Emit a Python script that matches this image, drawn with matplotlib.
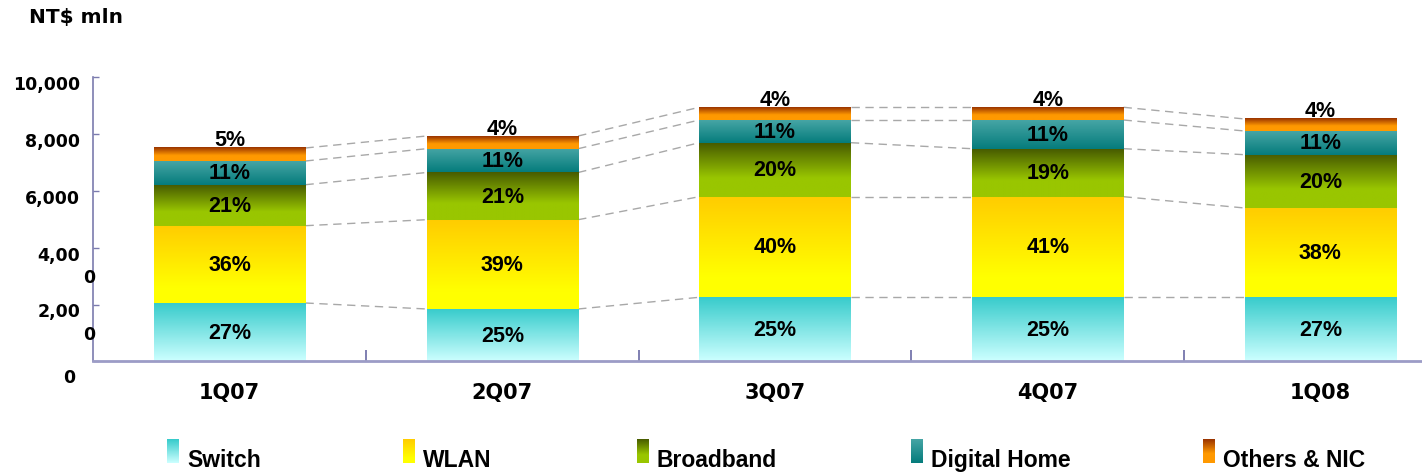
# Revenue breakdown by product line, NT$ mln

import numpy as np
import matplotlib.pyplot as plt
from matplotlib.colors import to_rgb
from matplotlib.transforms import offset_copy

# Data
quarters = ['1Q07', '2Q07', '3Q07', '4Q07', '1Q08']
segments = ['Switch', 'WLAN', 'Broadband', 'Digital Home', 'Others & NIC']

switch = [2053, 1842, 2254, 2254, 2254]
wlan = [2722, 3144, 3542, 3542, 3144]
broadband = [1443, 1662, 1901, 1690, 1877]
digital_home = [835, 838, 799, 1010, 834]
others = [458, 447, 448, 448, 423]

switch_pct = ['27%', '25%', '25%', '25%', '27%']
wlan_pct = ['36%', '39%', '40%', '41%', '38%']
broadband_pct = ['21%', '21%', '20%', '19%', '20%']
digital_home_pct = ['11%', '11%', '11%', '11%', '11%']
others_pct = ['5%', '4%', '4%', '4%', '4%']

y_ticks = [0, 2000, 4000, 6000, 8000, 10000]
y_labels = ['0', '2,00\n0', '4,00\n0', '6,000', '8,000', '10,000']

values = [switch, wlan, broadband, digital_home, others]
pcts = [switch_pct, wlan_pct, broadband_pct, digital_home_pct, others_pct]

# gradient stops, top -> bottom
gradients = [
    [(0, '#36CBCB'), (1, '#CCFFFF')],
    [(0, '#FFCC00'), (0.8, '#FFFF00'), (1, '#FFFF00')],
    [(0, '#485C00'), (0.65, '#99C600'), (1, '#99C600')],
    [(0, '#46A5A5'), (1, '#057C7C')],
    [(0, '#993300'), (0.6, '#FF9900'), (1, '#FF9900')],
]


def grad(stops, n=80):
    t = np.linspace(0, 1, n)
    pos = [s[0] for s in stops]
    cols = np.array([to_rgb(s[1]) for s in stops])
    rgb = np.stack([np.interp(t, pos, cols[:, c]) for c in range(3)], axis=1)
    return rgb.reshape(n, 1, 3)


W, H = 1422, 477
fig = plt.figure(figsize=(W / 100, H / 100), dpi=100)
x0, y_axis, y_top = 93.3, 362.3, 78.3
ax = fig.add_axes([x0 / W, 1 - y_axis / H, 1 - x0 / W, (y_axis - y_top) / H])

bar_w = 0.556
x = np.arange(len(quarters))
pct_font = dict(family=['Liberation Sans', 'DejaVu Sans'], weight='bold', fontsize=15.5)

bottoms = np.zeros(len(quarters))
levels = []
for vals, stops, labels in zip(values, gradients, pcts):
    vals = np.array(vals, dtype=float)
    img = grad(stops)
    for i in range(len(quarters)):
        ax.imshow(img, extent=[x[i] - bar_w / 2, x[i] + bar_w / 2, bottoms[i], bottoms[i] + vals[i]],
                  aspect='auto', interpolation='bilinear', zorder=2)
    tops = bottoms + vals
    levels.append(tops.copy())
    if labels is others_pct:
        tr = offset_copy(ax.transData, fig=fig, y=8, units='dots')
        for i in range(len(quarters)):
            ax.text(x[i], tops[i], labels[i], ha='center', va='center', transform=tr, zorder=4, **pct_font)
    else:
        for i in range(len(quarters)):
            ax.text(x[i], bottoms[i] + vals[i] / 2, labels[i], ha='center', va='center', zorder=4, **pct_font)
    bottoms = tops

# dashed connectors between bars
for lv in levels:
    for i in range(len(quarters) - 1):
        ax.plot([x[i] + bar_w / 2, x[i + 1] - bar_w / 2], [lv[i], lv[i + 1]],
                color='#A8A8A8', lw=1.0, dashes=(6, 4), zorder=1)

ax.set_xlim(-0.5, -0.5 + (W - x0) / 272.7)
ax.set_ylim(0, 10000)

for s in ['top', 'right']:
    ax.spines[s].set_visible(False)
ax.spines['left'].set_color('#7B7BAE')
ax.spines['left'].set_linewidth(1.2)
ax.spines['bottom'].set_color('#9C9CC6')
ax.spines['bottom'].set_linewidth(2)

ax.set_yticks(y_ticks)
ax.set_yticklabels([])
ax.tick_params(axis='y', direction='in', length=4.5, width=1, color='#7B7BAE')
ax.set_xticks(x[:-1] + 0.5)
ax.set_xticklabels([])
ax.tick_params(axis='x', direction='in', length=8, width=1.2, color='#6A6AA4')

tick_font = dict(family='DejaVu Sans', weight='bold', fontsize=12.5)
ytr = ax.get_yaxis_transform()
for v, lab in zip(y_ticks, y_labels):
    parts = lab.split('\n')
    if v == 0:
        ax.text(0, v, parts[0], ha='right', va='center',
                transform=offset_copy(ytr, fig=fig, x=-18, y=-16, units='dots'), **tick_font)
        continue
    ax.text(0, v, parts[0], ha='right', va='center',
            transform=offset_copy(ytr, fig=fig, x=-13, y=-7, units='dots'), **tick_font)
    if len(parts) > 1:
        ax.text(0, v, parts[1], ha='right', va='center',
                transform=offset_copy(ytr, fig=fig, x=2, y=-29, units='dots'), **tick_font)

xtr = offset_copy(ax.get_xaxis_transform(), fig=fig, y=-31, units='dots')
for i, q in enumerate(quarters):
    ax.text(x[i], 0, q, ha='center', va='center', transform=xtr,
            family='DejaVu Sans', weight='bold', fontsize=15)

fig.text(29 / W, 1 - 18 / H, 'NT$ mln', ha='left', va='center',
         family='DejaVu Sans', weight='bold', fontsize=14.5)

# legend drawn in pixel coordinates
lax = fig.add_axes([0, 0, 1, 1], facecolor='none')
lax.axis('off')
patch_x = [167, 403, 637, 911, 1203]
for px, stops, name in zip(patch_x, gradients, segments):
    lax.imshow(grad(stops), extent=[px, px + 12, 464, 440], aspect='auto', interpolation='bilinear')
    lax.text(px + 20, 467, name, ha='left', va='baseline',
             family=['Liberation Sans', 'DejaVu Sans'], weight='bold', fontsize=16.5)
lax.set_xlim(0, W)
lax.set_ylim(H, 0)

fig.savefig('out.png', dpi=100)
